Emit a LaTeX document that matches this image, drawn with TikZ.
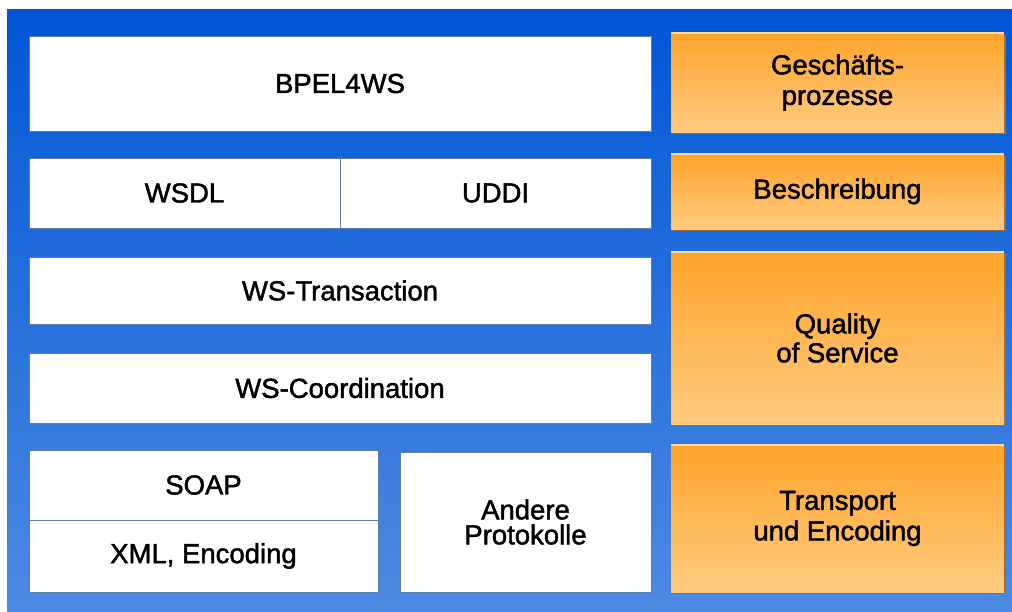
\documentclass[tikz,border=0pt]{standalone}
\usepackage{fontspec}
\newfontfamily\lab{Liberation Sans}[FakeBold=1.6]
\usetikzlibrary{shadows}
\definecolor{bgtop}{RGB}{0,86,214}
\definecolor{bgbot}{RGB}{78,138,226}
\definecolor{ortop}{RGB}{255,164,42}
\definecolor{orbot}{RGB}{255,203,128}
\definecolor{orshadow}{RGB}{168,104,32}
\definecolor{orhi}{RGB}{255,218,160}
\definecolor{boxline}{RGB}{95,125,165}
\tikzset{
  wbox/.style={draw=boxline, line width=0.8pt, fill=white, align=center,
    inner sep=0pt, outer sep=0pt, font=\lab\fontsize{27.5}{30.5}\selectfont},
  obox/.style={draw=none, top color=ortop, bottom color=orbot, align=center,
    inner sep=0pt, outer sep=0pt, minimum width=333pt,
    font=\lab\fontsize{27.5}{30.5}\selectfont,
    drop shadow={shadow xshift=2pt, shadow yshift=-2pt, fill=orshadow, opacity=1}},
  hiline/.style={draw=orhi, line width=1.5pt}
}
\begin{document}
\begin{tikzpicture}[x=1pt,y=-1pt]
\useasboundingbox (0,0) rectangle (1012,611);
\shade[top color=bgtop, bottom color=bgbot] (7,9) rectangle (1012,611);

% left stack
\node[wbox, minimum width=622pt, minimum height=95pt] (bpel) at (340,83.5) {BPEL4WS};
\node[wbox, minimum width=311pt, minimum height=70pt] (wsdl) at (184.5,193) {WSDL};
\node[wbox, minimum width=311pt, minimum height=70pt] (uddi) at (495.5,193) {UDDI};
\node[wbox, minimum width=622pt, minimum height=67pt] (wstr) at (340,290.5) {WS-Transaction};
\node[wbox, minimum width=622pt, minimum height=70pt] (wsco) at (340,388) {WS-Coordination};
\node[wbox, minimum width=349pt, minimum height=70pt] (soap) at (203.5,485) {SOAP};
\node[wbox, minimum width=349pt, minimum height=72pt] (xml) at (203.5,556) {XML, Encoding};
\node[wbox, minimum width=251pt, minimum height=140pt,
  font=\lab\fontsize{27.5}{25}\selectfont] (andere) at (525.5,522) {Andere\\Protokolle};

% right column
\node[obox, minimum height=99pt] (gp) at (837.5,82.5) {Geschäfts-\\prozesse};
\node[obox, minimum height=75pt] (be) at (837.5,191.5) {Beschreibung};
\node[obox, minimum height=172pt, font=\lab\fontsize{27.5}{29}\selectfont] (qos) at (837.5,338) {Quality\\of Service};
\node[obox, minimum height=147pt] (te) at (837.5,518.5) {Transport\\und Encoding};

\foreach \n in {gp,be,qos,te}{
  \draw[hiline] (\n.north west) -- (\n.north east);
}
\end{tikzpicture}
\end{document}
